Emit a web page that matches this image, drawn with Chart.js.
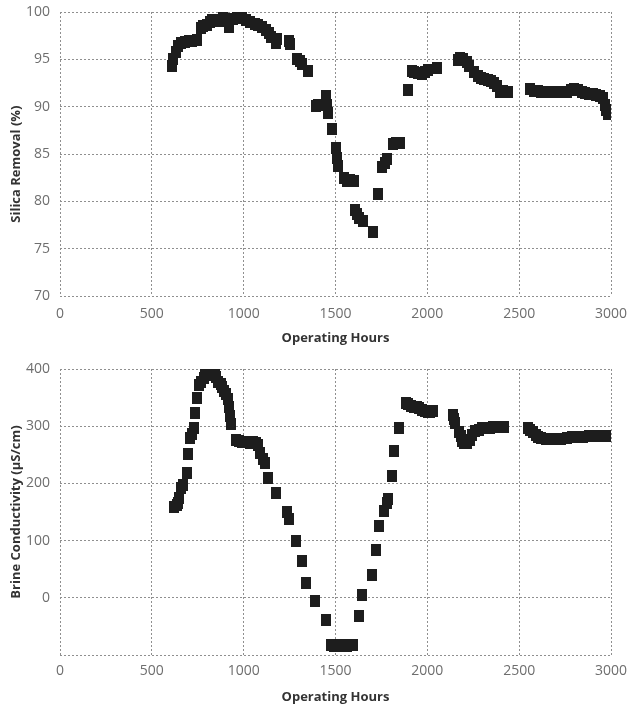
<!DOCTYPE html>
<html>
<head>
<meta charset="utf-8">
<script src="https://cdn.jsdelivr.net/npm/chart.js@4.4.1/dist/chart.umd.min.js"></script>
<style>
    html, body { margin: 0; padding: 0; background: #fff; overflow: hidden; }
    .panel { position: absolute; left: 0; width: 628px; }
    #silica-panel { top: 0; height: 350px; }
    #brine-panel { top: 350px; height: 357px; }
</style>
</head>
<body>
<div class="panel" id="silica-panel"><canvas id="silica-chart"></canvas></div>
<div class="panel" id="brine-panel"><canvas id="brine-chart"></canvas></div>
<script>
// tick labels
const hourTicks   = [0, 500, 1000, 1500, 2000, 2500, 3000];
const silicaTicks = [70, 75, 80, 85, 90, 95, 100];
const brineTicks  = [-100, 0, 100, 200, 300, 400];

// Silica removal (%) vs operating hours
const silicaHours = [
    610, 615, 630, 643, 660, 680, 700, 720, 745, 765, 780, 800, 815, 830, 850, 870,
    890, 905, 920, 940, 965, 990, 1010, 1035, 1060, 1080, 1100, 1120, 1138, 1150, 1176, 1180,
    1245, 1250, 1290, 1305, 1318, 1350, 1394, 1405, 1450, 1455, 1460, 1481, 1500, 1510,
    1515, 1545, 1565, 1580, 1600, 1605, 1615, 1630, 1650, 1705, 1732, 1754, 1770, 1781,
    1812, 1830, 1850, 1895, 1915, 1930, 1950, 1970, 1985, 2005, 2053, 2165, 2180, 2195,
    2215, 2225, 2255, 2275, 2290, 2310, 2330, 2345, 2364, 2380, 2396, 2410, 2430, 2440,
    2560, 2580, 2600, 2620, 2640, 2660, 2680, 2700, 2720, 2740, 2760, 2780, 2800, 2820,
    2840, 2860, 2880, 2900, 2920, 2940, 2955, 2965, 2975, 2985,
];
const silicaRemoval = [
    94.3, 95.0, 95.8, 96.4, 96.7, 96.8, 96.9, 96.9, 97.0, 98.3, 98.5, 98.6, 98.9, 99.2, 99.2, 99.1,
    99.4, 99.0, 98.4, 99.3, 99.5, 99.4, 99.2, 98.9, 98.7, 98.6, 98.4, 98.1, 97.8, 97.4, 96.7, 97.2,
    96.9, 96.6, 95.0, 94.8, 94.5, 93.8, 90.1, 90.2, 91.1, 90.2, 89.3, 87.6, 85.6, 84.6,
    83.7, 82.5, 82.1, 82.3, 82.2, 79.1, 78.7, 78.2, 77.9, 76.8, 80.8, 83.6, 84.0, 84.5,
    86.1, 86.2, 86.2, 91.8, 93.8, 93.7, 93.6, 93.4, 93.7, 93.9, 94.1, 94.9, 95.1, 95.0,
    94.7, 94.3, 93.7, 93.2, 93.0, 92.9, 92.8, 92.7, 92.5, 92.2, 91.6, 91.7, 91.6, 91.5,
    91.9, 91.7, 91.7, 91.6, 91.5, 91.6, 91.5, 91.6, 91.6, 91.6, 91.6, 91.8, 91.9, 91.8,
    91.6, 91.4, 91.3, 91.3, 91.2, 91.1, 90.9, 90.2, 89.6, 89.2,
];

// Brine conductivity (µS/cm) vs operating hours
const brineHours = [
    622, 635, 645, 650, 658, 668, 690, 698, 708, 718, 728, 736, 747, 758, 770, 782,
    792, 805, 818, 830, 842, 852, 862, 875, 884, 895, 905, 915, 922, 927, 933,
    960, 975, 990, 1005, 1020, 1035, 1050, 1065, 1078, 1088, 1105, 1115, 1130, 1178,
    1238, 1245, 1287, 1320, 1342, 1391, 1446, 1473, 1490, 1505, 1520, 1540, 1560, 1580,
    1598, 1626, 1642, 1697, 1718, 1735, 1762, 1780, 1788, 1806, 1817, 1844, 1882, 1895,
    1909, 1925, 1942, 1955, 1969, 1985, 2002, 2015, 2029, 2139, 2145, 2150, 2171, 2182,
    2190, 2200, 2215, 2230, 2242, 2260, 2280, 2300, 2320, 2340, 2360, 2380, 2400, 2420,
    2548, 2560, 2575, 2590, 2602, 2620, 2646, 2670, 2700, 2730, 2760, 2790, 2820, 2850,
    2880, 2910, 2940, 2970, 2995,
];
const brineConductivity = [
    159, 162, 166, 174, 192, 197, 218, 252, 279, 286, 296, 323, 349, 372, 378, 384,
    391, 389, 395, 392, 389, 386, 378, 374, 368, 362, 357, 347, 333, 318, 303,
    276, 275, 273, 272, 272, 271, 272, 270, 268, 253, 242, 236, 209, 183,
    150, 138, 99, 65, 26, -5, -38, -83, -84, -83, -85, -83, -84, -83,
    -83, -32, 5, 39, 84, 125, 152, 165, 172, 213, 257, 297, 340, 338,
    336, 334, 333, 331, 328, 326, 325, 325, 326, 320, 312, 305, 290, 282,
    274, 270, 270, 276, 284, 292, 294, 296, 297, 297, 298, 298, 298, 298,
    296, 293, 290, 285, 281, 279, 277, 278, 277, 278, 279, 281, 281, 281,
    282, 282, 282, 282, 282,
];

const fontFamily = "'Open Sans', 'DejaVu Sans', sans-serif";
const markColor = '#1d1d1d';
const gridColor = '#8f8f8f';
const tickColor = '#6e6e6e';
const titleColor = '#333333';

// the original markers are small blocks, a little taller than wide
const marker = document.createElement('canvas');
marker.width = 10;
marker.height = 12;
const mctx = marker.getContext('2d');
mctx.fillStyle = markColor;
mctx.fillRect(0, 0, 10, 12);

function makeChart(canvasId, hours, values, yTicks, yTitle, opts) {
    const points = hours.map((h, i) => ({ x: h, y: values[i] }));
    const tickFont = { family: fontFamily, size: 14 };
    const titleFont = { family: fontFamily, size: 13, weight: 'bold' };

    return new Chart(document.getElementById(canvasId), {
        type: 'scatter',
        data: {
            datasets: [{
                data: points,
                pointStyle: marker,
                pointRadius: 6,
                pointHoverRadius: 6,
                pointBackgroundColor: markColor,
                pointBorderWidth: 0,
                showLine: false,
            }],
        },
        options: {
            responsive: true,
            maintainAspectRatio: false,
            animation: false,
            layout: { padding: { top: opts.top, right: 17, left: 0, bottom: 0 } },
            plugins: {
                legend: { display: false },
                tooltip: { enabled: false },
            },
            scales: {
                x: {
                    type: 'linear',
                    min: 0,
                    max: 3000,
                    afterBuildTicks: (scale) => { scale.ticks = hourTicks.map(v => ({ value: v })); },
                    afterFit: (scale) => {
                        // fixed box: no extra room for label overflow
                        scale.height = opts.xHeight;
                        scale.paddingLeft = 0;
                        scale.paddingRight = 0;
                    },
                    grid: { color: gridColor, lineWidth: 1, drawTicks: false },
                    border: { display: false, dash: [2, 2] },
                    ticks: {
                        color: tickColor,
                        font: tickFont,
                        padding: opts.xTickPad,
                        maxRotation: 0,
                        callback: (v) => String(v),
                    },
                    title: {
                        display: true,
                        text: 'Operating Hours',
                        color: titleColor,
                        font: titleFont,
                        padding: { top: 0, bottom: opts.xTitlePad },
                    },
                },
                y: {
                    type: 'linear',
                    min: yTicks[0],
                    max: yTicks[yTicks.length - 1],
                    afterBuildTicks: (scale) => { scale.ticks = yTicks.map(v => ({ value: v })); },
                    afterFit: (scale) => {
                        scale.width = 60;
                        scale.paddingTop = 0;
                        scale.paddingBottom = 0;
                    },
                    grid: { color: gridColor, lineWidth: 1, drawTicks: false },
                    border: { display: false, dash: [2, 2] },
                    ticks: {
                        color: tickColor,
                        font: tickFont,
                        padding: 10,
                        callback: (v) => (v === -100 ? '' : String(v)),
                    },
                    title: {
                        display: true,
                        text: yTitle,
                        color: titleColor,
                        font: titleFont,
                        padding: { top: 8, bottom: 0 },
                    },
                },
            },
        },
    });
}

// trailing spaces nudge the rotated title down, as in the original
makeChart('silica-chart', silicaHours, silicaRemoval, silicaTicks, 'Silica Removal (%)      ',
    { top: 12, xHeight: 54, xTickPad: 10, xTitlePad: 4 });
makeChart('brine-chart', brineHours, brineConductivity, brineTicks, 'Brine Conductivity (µS/cm)',
    { top: 19, xHeight: 52, xTickPad: 8, xTitlePad: 2 });
</script>
</body>
</html>
